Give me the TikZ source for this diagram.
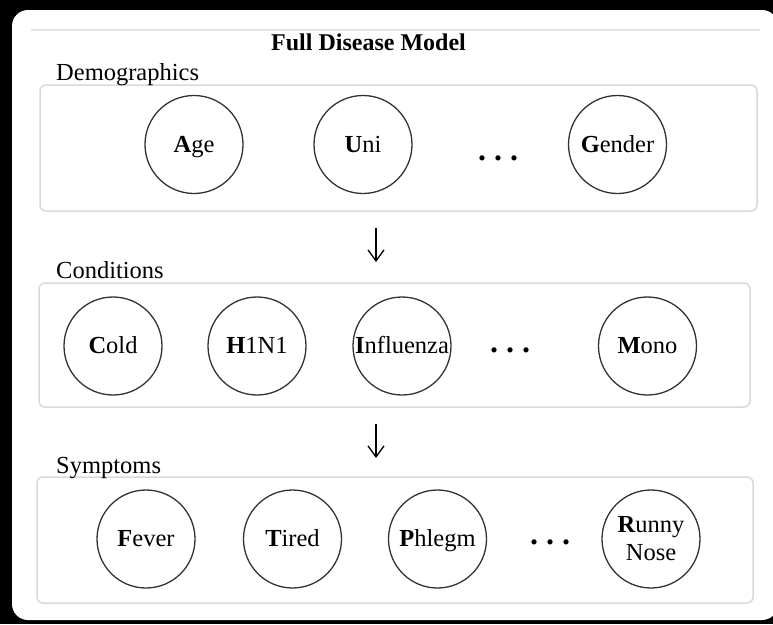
\documentclass[tikz,border=0pt]{standalone}
\usepackage{fontspec}
\setmainfont{Liberation Serif}
\usetikzlibrary{arrows.meta, positioning}
\tikzstyle{panel} = [draw=black!15, line width=1.5pt, rounded corners=6pt, inner sep=0pt]
\tikzstyle{var} = [circle, draw=black!80, line width=1.3pt, minimum size=98pt, inner sep=0pt, outer sep=0pt, text height=17pt, text depth=2pt, font=\fontsize{24.5}{28}\selectfont]
\tikzstyle{group} = [anchor=base west, inner sep=0pt, font=\fontsize{24.5}{28}\selectfont]
\tikzstyle{more} = [anchor=base, inner sep=0pt, font=\fontsize{32}{34}\selectfont\bfseries]
\tikzstyle{line} = [draw, line width=1.3pt, -{Straight Barb[length=11pt, width=16pt]}]

\begin{document}
\begin{tikzpicture}[x=1pt, y=-1pt]
\useasboundingbox (0,0) rectangle (773,624);
\fill[black] (0,0) rectangle (773,624);
\fill[white, rounded corners=16pt] (12,10) rectangle (778,620);
\draw[black!10, line width=1.5pt] (31,30) -- (760,30);
\node [anchor=base, inner sep=0pt, font=\fontsize{24}{28}\selectfont\bfseries] (title) at (368.5,50) {Full Disease Model};

% demographics
\node [panel, minimum width=717pt, minimum height=126pt] (demo) at (398.5,148) {};
\node [group] (demolabel) at (56,80) {Demographics};
\node [var] (age) at (194,144.5) {\textbf{A}ge};
\node [var, right=71pt of age] (uni) {\textbf{U}ni};
\node [more] (demodots) at (498,160) {.\hspace{8pt}.\hspace{8pt}.};
\node [var] (gender) at (617.5,144.5) {\textbf{G}ender};

% conditions
\node [panel, minimum width=711pt, minimum height=124pt] (cond) at (394.5,345) {};
\node [group] (condlabel) at (56,278) {Conditions};
\node [var] (cold) at (113,346) {\textbf{C}old};
\node [var, right=46pt of cold] (hini) {\textbf{H}1N1};
\node [var, right=47pt of hini] (flu) {\textbf{I}nfluenza};
\node [more] (conddots) at (510,352) {.\hspace{8pt}.\hspace{8pt}.};
\node [var] (mono) at (647.5,346) {\textbf{M}ono};

% symptoms
\node [panel, minimum width=716pt, minimum height=126pt] (symp) at (395,540) {};
\node [group] (symplabel) at (56,473) {Symptoms};
\node [var] (fever) at (146,539) {\textbf{F}ever};
\node [var, right=48.5pt of fever] (tired) {\textbf{T}ired};
\node [var, right=47pt of tired] (phlegm) {\textbf{P}hlegm};
\node [more] (sympdots) at (550,544) {.\hspace{8pt}.\hspace{8pt}.};
\node [var, text height=, text depth=, align=center] (runny) at (651,539) {\textbf{R}unny\\Nose};

\coordinate (demoout) at (376,228);
\coordinate (condin) at (376,262);
\coordinate (condout) at (376,424);
\coordinate (sympin) at (376,458);
\path [line] (demoout) -- (condin);
\path [line] (condout) -- (sympin);
\end{tikzpicture}
\end{document}
